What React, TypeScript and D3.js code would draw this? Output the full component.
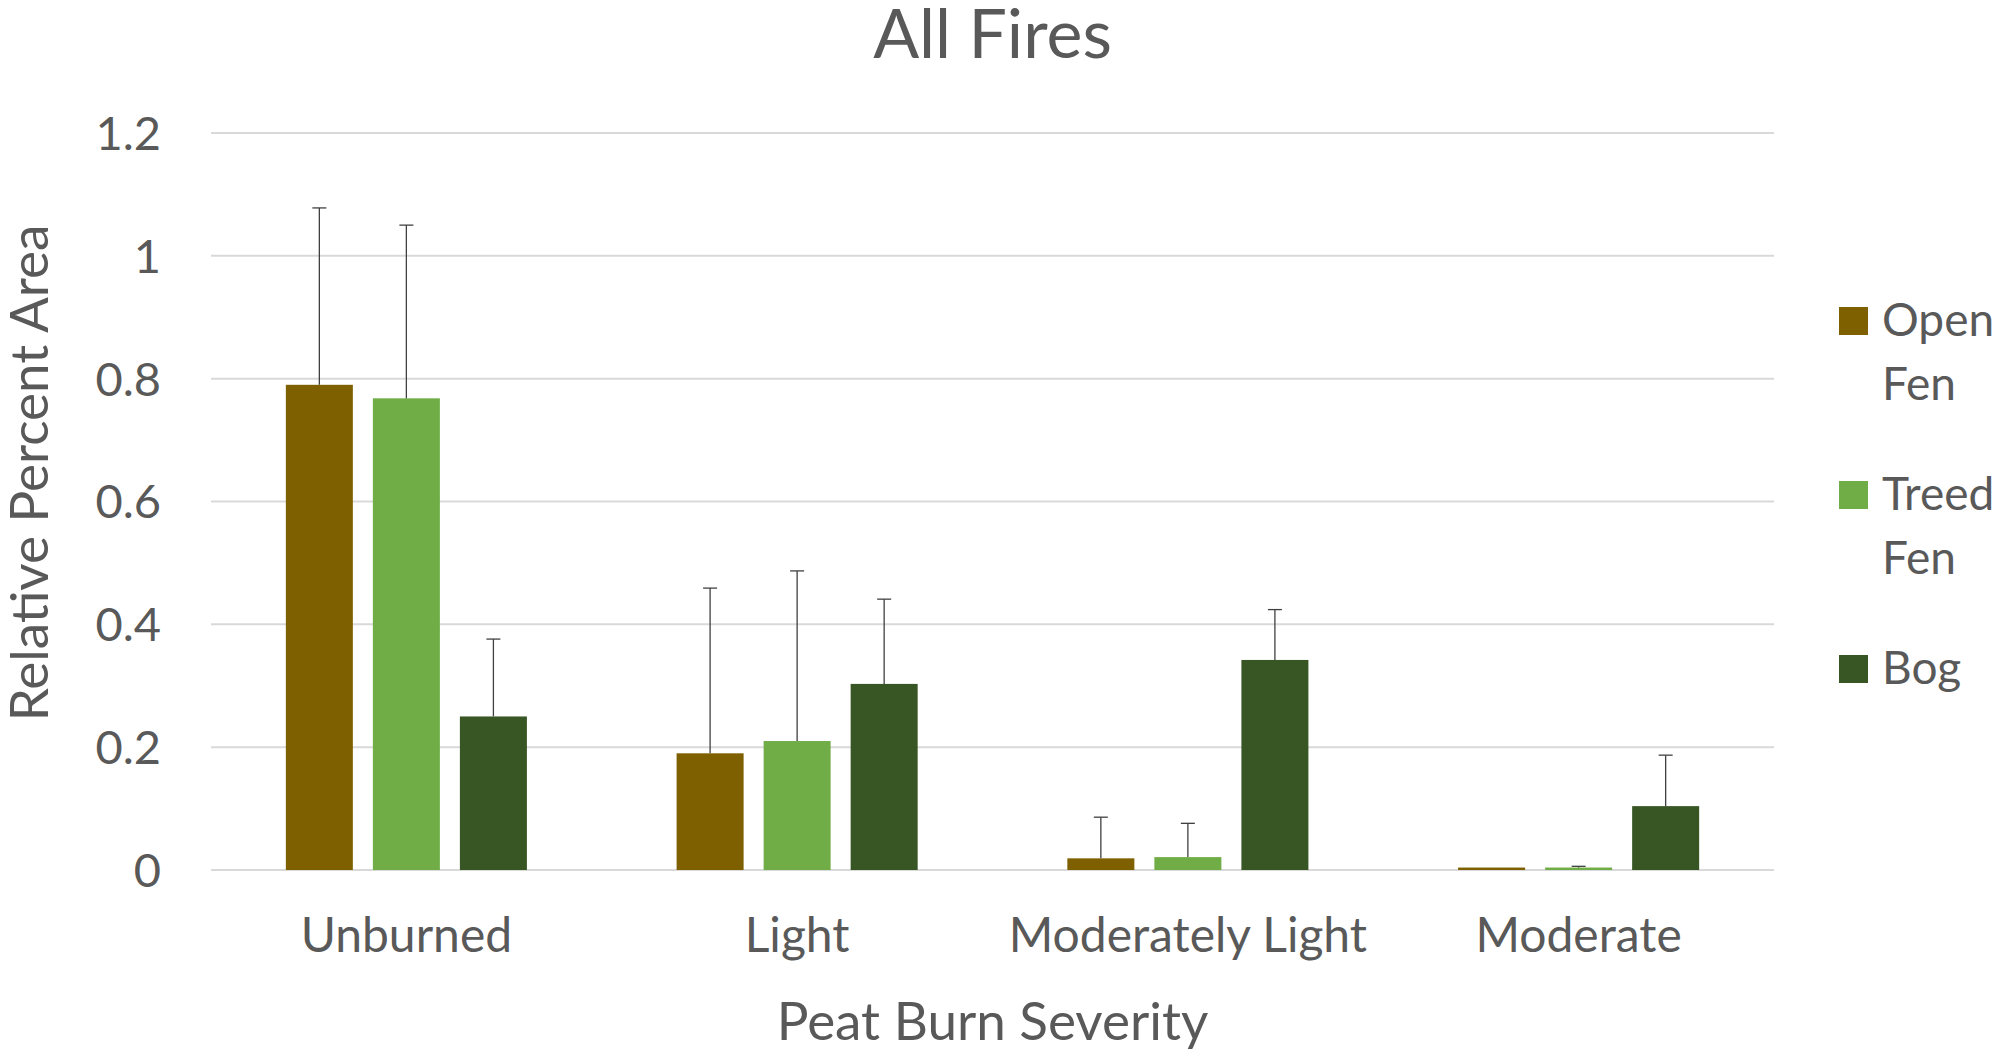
import { useMemo } from "react";
import * as d3 from "d3";

const WIDTH = 2004;
const HEIGHT = 1054;
const PLOT = { left: 211, right: 1774, top: 133, bottom: 870 };

const categories = ["Unburned", "Light", "Moderately Light", "Moderate"];
const series = ["Open Fen", "Treed Fen", "Bog"];
const colors = ["#7f6000", "#70ad47", "#375623"];

// mean values per series, in category order
const openFen = [0.79, 0.19, 0.019, 0.004];
const treedFen = [0.768, 0.21, 0.021, 0.004];
const bog = [0.25, 0.303, 0.342, 0.104];

// upper end of the error bars
const openFenErr = [1.078, 0.459, 0.086, 0.004];
const treedFenErr = [1.05, 0.487, 0.076, 0.006];
const bogErr = [0.376, 0.441, 0.424, 0.187];

const yTicks = [0, 0.2, 0.4, 0.6, 0.8, 1, 1.2];

const TEXT = "#595959";
const FONT = "Lato, 'Open Sans', sans-serif";

export default function App() {
  const values = [openFen, treedFen, bog];
  const errors = [openFenErr, treedFenErr, bogErr];

  const yScale = useMemo(
    () => d3.scaleLinear().domain([0, 1.2]).range([PLOT.bottom, PLOT.top]),
    []
  );
  const xScale = useMemo(
    () => d3.scaleBand().domain(categories).range([PLOT.left, PLOT.right]),
    []
  );
  const innerScale = useMemo(
    () =>
      d3
        .scaleBand()
        .domain(series)
        .range([0, xScale.bandwidth()])
        .paddingInner(0.23)
        .paddingOuter(0.86),
    [xScale]
  );

  const fmt = d3.format("~g");
  const barW = innerScale.bandwidth();

  return (
    <svg
      width={WIDTH}
      height={HEIGHT}
      style={{ position: "absolute", left: 0, top: 0, background: "white" }}
      fontFamily={FONT}
    >
      {/* title */}
      <text
        x={(PLOT.left + PLOT.right) / 2}
        y={58}
        textAnchor="middle"
        fontSize={68}
        fill={TEXT}
      >
        All Fires
      </text>

      {/* grid + y ticks */}
      {yTicks.map((t) => (
        <g key={t}>
          <line
            x1={PLOT.left}
            x2={PLOT.right}
            y1={yScale(t)}
            y2={yScale(t)}
            stroke="#d9d9d9"
            strokeWidth={2}
          />
          <text
            x={161}
            y={yScale(t)}
            dy="0.36em"
            textAnchor="end"
            fontSize={47}
            fill={TEXT}
          >
            {fmt(t)}
          </text>
        </g>
      ))}

      {/* bars */}
      {categories.map((c, ci) => (
        <g key={c} transform={`translate(${xScale(c)},0)`}>
          {series.map((s, si) => {
            const x = innerScale(s)!;
            const v = values[si][ci];
            const e = errors[si][ci];
            const cx = x + barW / 2;
            return (
              <g key={s}>
                <rect
                  x={x}
                  y={yScale(v)}
                  width={barW}
                  height={yScale(0) - yScale(v)}
                  fill={colors[si]}
                />
                {e > v && (
                  <g stroke="#404040" strokeWidth={1.3}>
                    <line x1={cx} x2={cx} y1={yScale(v)} y2={yScale(e)} />
                    <line x1={cx - 7} x2={cx + 7} y1={yScale(e)} y2={yScale(e)} />
                  </g>
                )}
              </g>
            );
          })}
          <text
            x={xScale.bandwidth() / 2}
            y={952}
            textAnchor="middle"
            fontSize={48}
            fill={TEXT}
          >
            {c}
          </text>
        </g>
      ))}

      {/* axis titles */}
      <text
        x={(PLOT.left + PLOT.right) / 2}
        y={1040}
        textAnchor="middle"
        fontSize={53}
        fill={TEXT}
      >
        Peat Burn Severity
      </text>
      <text
        transform={`translate(48,473) rotate(-90)`}
        textAnchor="middle"
        fontSize={53}
        fill={TEXT}
      >
        Relative Percent Area
      </text>

      {/* legend */}
      {series.map((s, si) => {
        const base = 336 + si * 174;
        const lines = s.split(" ");
        return (
          <g key={s}>
            <rect x={1839} y={base - 29} width={29} height={28} fill={colors[si]} />
            {lines.map((l, li) => (
              <text key={li} x={1882} y={base + li * 64} fontSize={46} fill={TEXT}>
                {l}
              </text>
            ))}
          </g>
        );
      })}
    </svg>
  );
}
